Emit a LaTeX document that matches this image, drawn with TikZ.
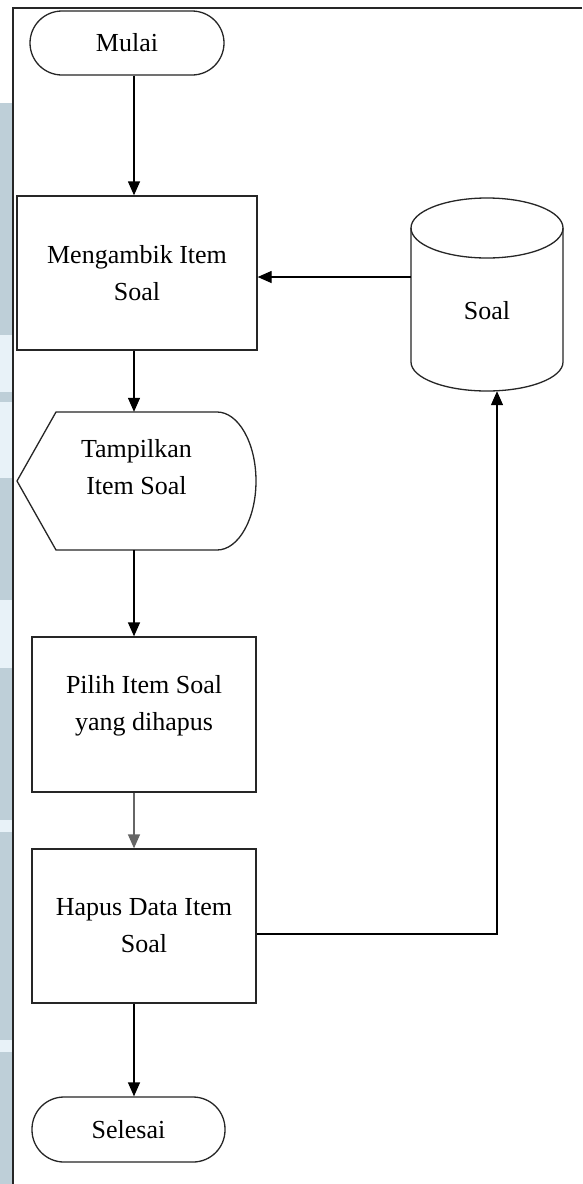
\documentclass[tikz,border=0pt]{standalone}
\usepackage{fontspec}
\setmainfont{Liberation Serif}
\usetikzlibrary{arrows.meta,calc}
\definecolor{stripdark}{RGB}{190,207,216}
\definecolor{striplight}{RGB}{232,242,248}
\begin{document}
\begin{tikzpicture}[x=1pt,y=-1pt,
  shapeline/.style={draw=black!85, line width=1.3pt},
  txt/.style={font=\fontsize{26}{37}\selectfont, align=center},
  term/.style={shapeline, txt, rectangle, rounded corners=32pt, minimum width=194pt, minimum height=64pt, inner sep=0pt},
  box/.style={shapeline, txt, rectangle, inner sep=0pt},
  ghost/.style={rectangle, inner sep=0pt},
  arr/.style={draw=black, line width=1.3pt, -{Triangle[length=14pt,width=12pt]}}
]
\useasboundingbox (0,0) rectangle (582,1184);

% side strip
\fill[white] (0,0) rectangle (582,1184);
\fill[stripdark] (0,103) rectangle (12,1184);
\fill[striplight] (0,335) rectangle (12,392);
\fill[striplight] (0,402) rectangle (12,478);
\fill[striplight] (0,600) rectangle (12,668);
\fill[striplight] (0,820) rectangle (12,832);
\fill[striplight] (0,1040) rectangle (12,1052);

% page frame
\draw[line width=1.5pt, black!85] (13,1184) -- (13,8) -- (582,8);

\coordinate (spine) at (134,0);

% terminals and processes
\node[term] (start) at (127,43) {Mulai};
\node[box, minimum width=240pt, minimum height=154pt] (m) at (137,273) {Mengambik Item\\Soal};

% display symbol
\node[ghost, minimum width=239pt, minimum height=138pt,
      label={[txt, yshift=14pt]center:Tampilkan\\Item Soal}] (d) at (136.5,481) {};
\draw[shapeline] (17,481) -- (56,412) -- (217,412)
  .. controls (238.5,412) and (256,443) .. (256,481)
  .. controls (256,519) and (238.5,550) .. (217,550) -- (56,550) -- cycle;

\node[box, minimum width=224pt, minimum height=155pt,
      label={[txt, yshift=9pt]center:Pilih Item Soal\\yang dihapus}] (p) at (144,714.5) {};
\node[box, minimum width=224pt, minimum height=154pt] (h) at (144,926) {Hapus Data Item\\Soal};
\node[term, minimum width=193pt, minimum height=65pt] (end) at (128.5,1129.5) {Selesai};

% database cylinder
\node[ghost, minimum width=152pt, minimum height=193pt,
      label={[txt, yshift=-16pt]center:Soal}] (db) at (487,294.5) {};
\draw[shapeline] (487,228) ellipse [x radius=76pt, y radius=30pt];
\draw[shapeline] (411,228) -- (411,362)
  .. controls (411,378) and (445,391) .. (487,391)
  .. controls (529,391) and (563,378) .. (563,362) -- (563,228);

% flow
\draw[arr] (start.south -| spine) -- (m.north -| spine);
\draw[arr] (m.south -| spine) -- (d.north -| spine);
\draw[arr] (d.south -| spine) -- (p.north -| spine);
\draw[arr, draw=black!60] (p.south -| spine) -- (h.north -| spine);
\draw[arr] (h.south -| spine) -- (end.north -| spine);
\draw[arr] ($(m.east -| db.west)+(0,4)$) -- ($(m.east)+(0,4)$);
\coordinate (dbin) at ($(db.south)+(10,0)$);
\draw[arr] ($(h.east)+(0,8)$) -| (dbin);
\end{tikzpicture}
\end{document}
